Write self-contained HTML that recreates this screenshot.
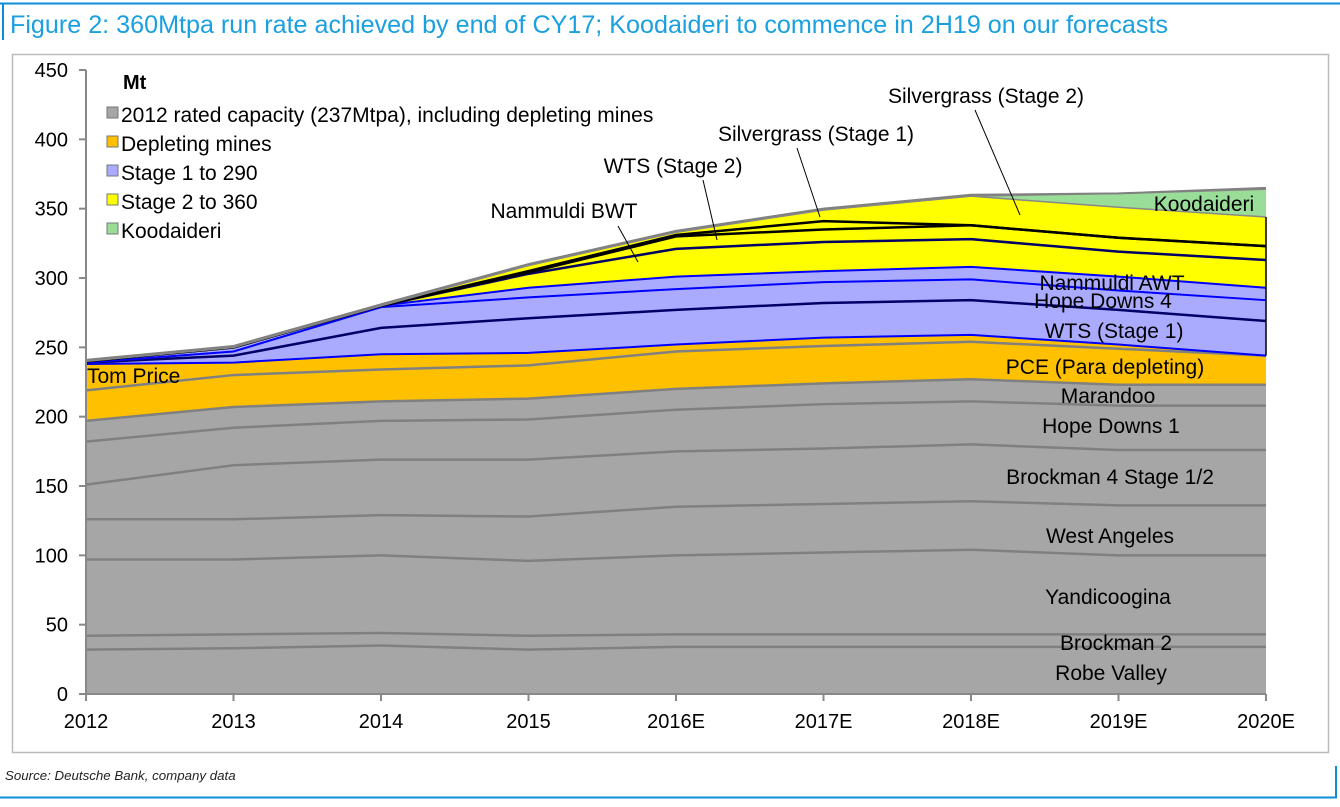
<!DOCTYPE html>
<html><head><meta charset="utf-8">
<style>
body{margin:0;background:#fff;}
svg text{font-family:"Liberation Sans",Arial,sans-serif;}
</style></head>
<body>
<svg id="chart" width="1340" height="802" xmlns="http://www.w3.org/2000/svg">
<line x1="0" y1="3.5" x2="1340" y2="3.5" stroke="#0a8fd6" stroke-width="2"/>
<line x1="3" y1="3" x2="3" y2="40" stroke="#0a8fd6" stroke-width="2"/>
<text x="10" y="33" font-size="25" textLength="1158" lengthAdjust="spacingAndGlyphs" fill="#1aa0e0">Figure 2: 360Mtpa run rate achieved by end of CY17; Koodaideri to commence in 2H19 on our forecasts</text>
<rect x="12.5" y="54.5" width="1316" height="698" fill="none" stroke="#bbb" stroke-width="1.5"/>
<g id="areas"></g>
<g id="axes"></g>
<g id="labels"></g>
<g font-size="21">
<text x="123" y="89" font-weight="bold" font-size="20">Mt</text>
<rect x="107" y="107" width="11" height="11" fill="#a6a6a6" stroke="#777"/>
<text x="121" y="122">2012 rated capacity (237Mtpa), including depleting mines</text>
<rect x="107" y="136" width="11" height="11" fill="#ffc000" stroke="#777"/>
<text x="121" y="151">Depleting mines</text>
<rect x="107" y="165" width="11" height="11" fill="#aaaaff" stroke="#777"/>
<text x="121" y="180">Stage 1 to 290</text>
<rect x="107" y="194" width="11" height="11" fill="#ffff00" stroke="#777"/>
<text x="121" y="209">Stage 2 to 360</text>
<rect x="107" y="223" width="11" height="11" fill="#99dd99" stroke="#777"/>
<text x="121" y="238">Koodaideri</text>
</g>
<text x="5" y="780" font-size="13.3" font-style="italic" fill="#222">Source: Deutsche Bank, company data</text>
<line x1="0" y1="797.5" x2="1337" y2="797.5" stroke="#0a8fd6" stroke-width="2"/>
<line x1="1336" y1="766" x2="1336" y2="798" stroke="#0a8fd6" stroke-width="2"/>
</svg>
<script>
const categories = ["2012","2013","2014","2015","2016E","2017E","2018E","2019E","2020E"];
const yTicks = [0,50,100,150,200,250,300,350,400,450];
const robeValley    = [32,33,35,32,34,34,34,34,34];
const brockman2     = [10,10,9,10,9,9,9,9,9];
const yandicoogina  = [55,54,56,54,57,59,61,57,57];
const westAngeles   = [29,29,29,32,35,35,35,36,36];
const brockman4     = [25,39,40,41,40,40,41,40,40];
const hopeDowns1    = [31,27,28,29,30,32,31,32,32];
const marandoo      = [15,15,14,15,15,15,16,15,15];
const tomPrice      = [22,23,23,24,27,27,27,26,21];
const pce           = [19,9,11,9,5,6,5,3,0];
const wtsStage1     = [1,5,19,25,25,25,25,25,25];
const hopeDowns4    = [0,3,15,15,15,15,15,14,15];
const nammuldiAwt   = [1,3,1,7,9,8,9,10,9];
const nammuldiBwt   = [0,0,0,10,20,21,20,18,20];
const wtsStage2     = [0,0,0,1,9,9,10,10,10];
const silvergrass1  = [0,0,0,1,1,6,0,0,0];
const silvergrass2  = [0,0,0,4,2,8,21,22,21];
const koodaideri    = [0,0,0,0,0,0,0,10,20];
const otherMines    = [1,1,1,1,1,1,1,0,1];

const layers = [
 {name:"robe-valley",v:robeValley,fill:"#a6a6a6",line:"#808080",w:2.5},
 {name:"brockman-2",v:brockman2,fill:"#a6a6a6",line:"#808080",w:2.5},
 {name:"yandicoogina",v:yandicoogina,fill:"#a6a6a6",line:"#808080",w:2.5},
 {name:"west-angeles",v:westAngeles,fill:"#a6a6a6",line:"#808080",w:2.5},
 {name:"brockman-4",v:brockman4,fill:"#a6a6a6",line:"#808080",w:2.5},
 {name:"hope-downs-1",v:hopeDowns1,fill:"#a6a6a6",line:"#808080",w:2.5},
 {name:"marandoo",v:marandoo,fill:"#a6a6a6",line:"#808080",w:2.5},
 {name:"tom-price",v:tomPrice,fill:"#ffc000",line:"#808080",w:2.5},
 {name:"pce",v:pce,fill:"#ffc000",line:"#0000ff",w:2},
 {name:"wts-stage-1",v:wtsStage1,fill:"#aaaaff",line:"#000066",w:2.5},
 {name:"hope-downs-4",v:hopeDowns4,fill:"#aaaaff",line:"#0000ff",w:2},
 {name:"nammuldi-awt",v:nammuldiAwt,fill:"#aaaaff",line:"#0000ff",w:2},
 {name:"nammuldi-bwt",v:nammuldiBwt,fill:"#ffff00",line:"#000066",w:2.5},
 {name:"wts-stage-2",v:wtsStage2,fill:"#ffff00",line:"#000000",w:2.5},
 {name:"silvergrass-1",v:silvergrass1,fill:"#ffff00",line:"#000000",w:2.5},
 {name:"silvergrass-2",v:silvergrass2,fill:"#ffff00",line:"#888888",w:1.5},
 {name:"koodaideri",v:koodaideri,fill:"#99dd99",line:"#888888",w:1.5},
 {name:"other",v:otherMines,fill:"#a6a6a6",line:"#808080",w:2}
];
const X0=86, X1=1266, Y0=694, Y450=70;
function xPos(i){return X0+(X1-X0)*i/(categories.length-1);}
function yPos(v){return Y0-(Y0-Y450)*v/450;}
const NS="http://www.w3.org/2000/svg";
const gA=document.getElementById("areas");
let base=categories.map(()=>0);
const tops=[];
layers.forEach(L=>{
  const top=base.map((b,i)=>b+L.v[i]);
  let d="M"+top.map((t,i)=>xPos(i)+","+yPos(t)).join(" L");
  for(let i=base.length-1;i>=0;i--) d+=" L"+xPos(i)+","+yPos(base[i]);
  d+=" Z";
  const p=document.createElementNS(NS,"path");
  p.setAttribute("d",d);p.setAttribute("fill",L.fill);
  
  
  gA.appendChild(p);
  tops.push({top,L});
  base=top;
});
tops.forEach(o=>{
  const pl=document.createElementNS(NS,"polyline");
  pl.setAttribute("points",o.top.map((t,i)=>xPos(i)+","+yPos(t)).join(" "));
  pl.setAttribute("fill","none");pl.setAttribute("stroke",o.L.line);pl.setAttribute("stroke-width",o.L.w);
  
  
  gA.appendChild(pl);
});
const last=categories.length-1;
const eb=document.createElementNS(NS,"line");
let cum=0, pceTop=0, sg2Top=0;
layers.forEach(L=>{cum+=L.v[last]; if(L.name==="pce")pceTop=cum; if(L.name==="silvergrass-2")sg2Top=cum;});
eb.setAttribute("x1",xPos(last));eb.setAttribute("x2",xPos(last));
eb.setAttribute("y1",yPos(pceTop));eb.setAttribute("y2",yPos(sg2Top));
eb.setAttribute("stroke","#000");eb.setAttribute("stroke-width","1.5");


gA.appendChild(eb);

const gX=document.getElementById("axes");
function ln(x1,y1,x2,y2,nm){const l=document.createElementNS(NS,"line");l.setAttribute("x1",x1);l.setAttribute("y1",y1);l.setAttribute("x2",x2);l.setAttribute("y2",y2);l.setAttribute("stroke","#888");l.setAttribute("stroke-width","2");


gX.appendChild(l);}
function tx(x,y,s,anchor,nm){const t=document.createElementNS(NS,"text");t.setAttribute("x",x);t.setAttribute("y",y);t.setAttribute("text-anchor",anchor);t.setAttribute("font-size","20");t.textContent=s;


gX.appendChild(t);}
ln(X0,Y450,X0,Y0+1,"y-axis");
ln(X0,Y0,X1,Y0,"x-axis");
yTicks.forEach(v=>{ln(X0-7,yPos(v),X0,yPos(v),"y-tick");tx(X0-18,yPos(v)+7,String(v),"end","y-tick-label");});
categories.forEach((c,i)=>{ln(xPos(i),Y0,xPos(i),Y0+7,"x-tick");tx(xPos(i),Y0+34,c,"middle","x-tick-label");});

const gL=document.getElementById("labels");
const ann=[
 ["Tom Price",87,383,"start","label-tom-price"],
 ["Nammuldi AWT",1112,290,"middle","label-nammuldi-awt"],
 ["Hope Downs 4",1103,308,"middle","label-hope-downs-4"],
 ["WTS (Stage 1)",1114,338,"middle","label-wts-stage-1"],
 ["PCE (Para depleting)",1105,374,"middle","label-pce"],
 ["Marandoo",1108,403,"middle","label-marandoo"],
 ["Hope Downs 1",1111,433,"middle","label-hope-downs-1"],
 ["Brockman 4 Stage 1/2",1110,484,"middle","label-brockman-4"],
 ["West Angeles",1110,543,"middle","label-west-angeles"],
 ["Yandicoogina",1108,604,"middle","label-yandicoogina"],
 ["Brockman 2",1116,650,"middle","label-brockman-2"],
 ["Robe Valley",1111,680,"middle","label-robe-valley"],
 ["Koodaideri",1204,211,"middle","label-koodaideri"],
 ["Nammuldi BWT",564,218,"middle","label-nammuldi-bwt"],
 ["WTS (Stage 2)",673,173,"middle","label-wts-stage-2"],
 ["Silvergrass (Stage 1)",816,141,"middle","label-silvergrass-1"],
 ["Silvergrass (Stage 2)",986,103,"middle","label-silvergrass-2"]
];
ann.forEach(a=>{const t=document.createElementNS(NS,"text");t.setAttribute("x",a[1]);t.setAttribute("y",a[2]);t.setAttribute("text-anchor",a[3]);t.setAttribute("font-size","21");t.textContent=a[0];


gL.appendChild(t);});
const leaders=[[618,226,638,262],[703,180,717,240],[797,148,820,217],[975,110,1020,215]];
leaders.forEach(s=>{const l=document.createElementNS(NS,"line");l.setAttribute("x1",s[0]);l.setAttribute("y1",s[1]);l.setAttribute("x2",s[2]);l.setAttribute("y2",s[3]);l.setAttribute("stroke","#000");l.setAttribute("stroke-width","1");


gL.appendChild(l);});
</script>
</body></html>
